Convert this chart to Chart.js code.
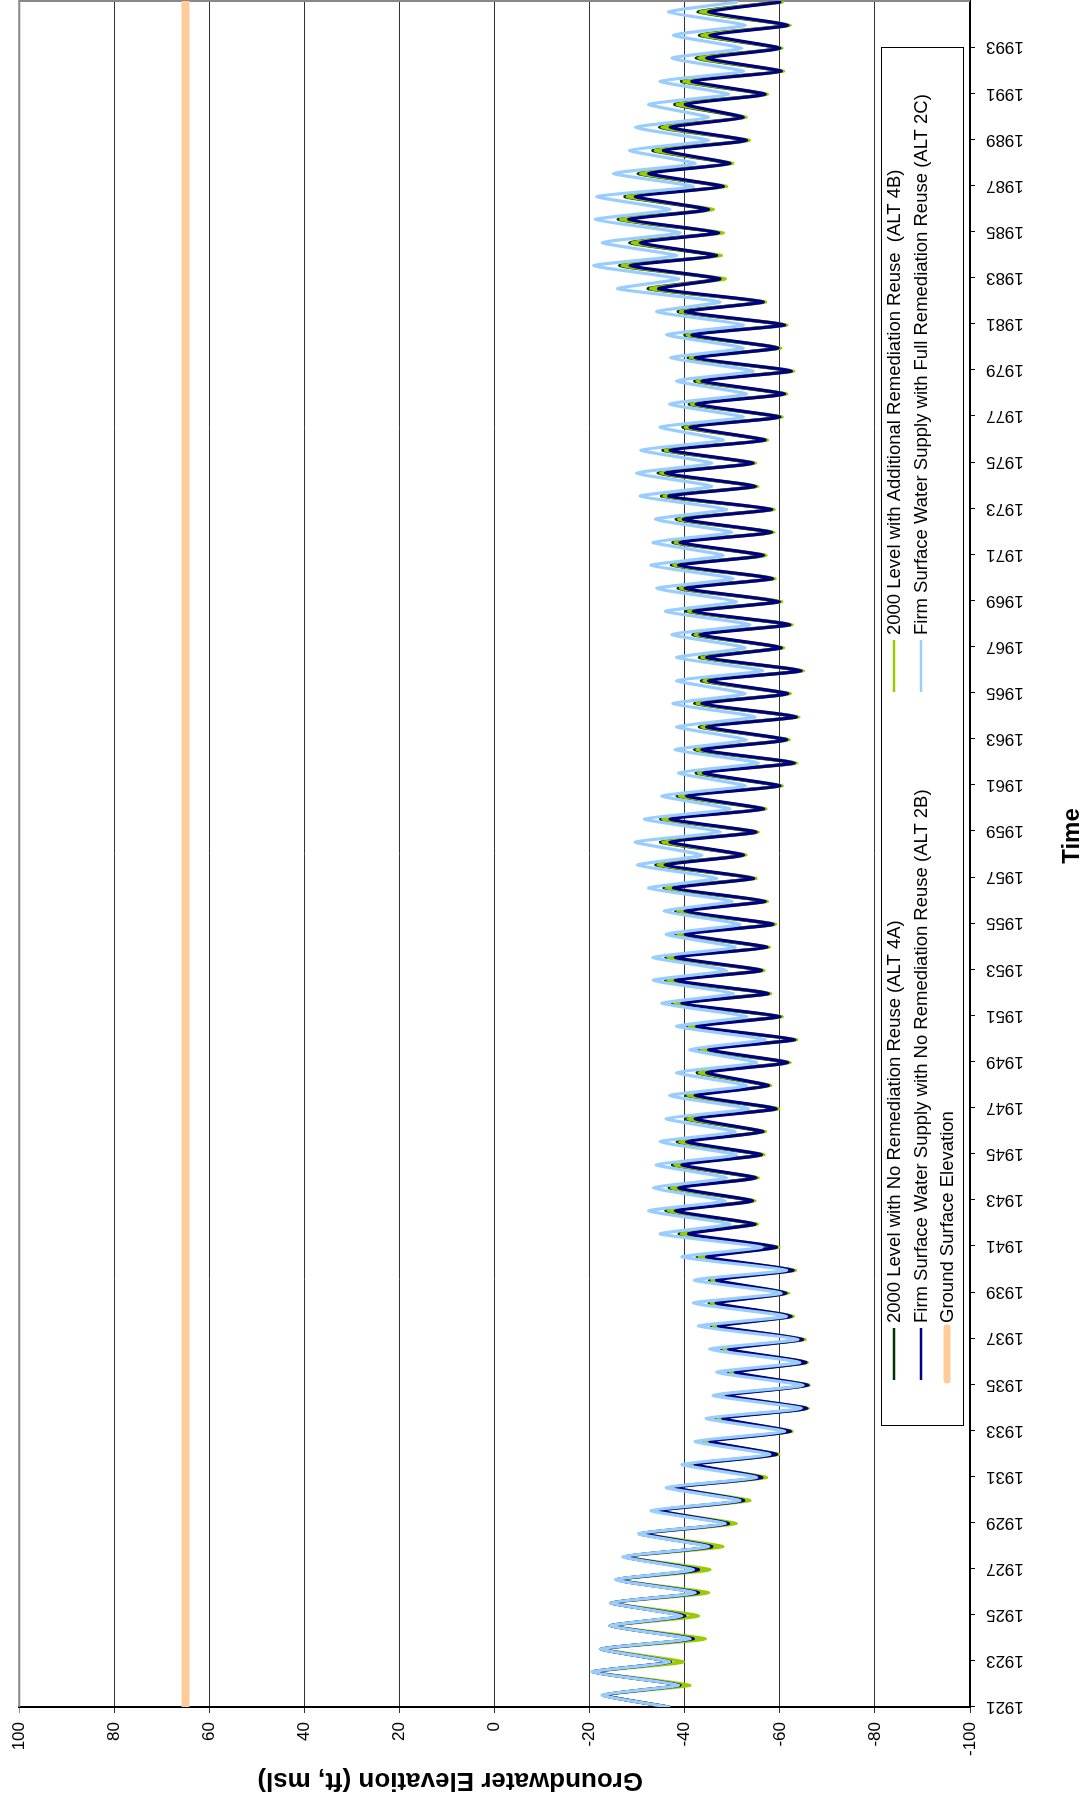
<!DOCTYPE html>
<html>
<head>
<meta charset="utf-8">
<script src="https://cdn.jsdelivr.net/npm/chart.js@4.4.1/dist/chart.umd.min.js"></script>
<style>
  html, body { margin: 0; padding: 0; background: #fff; overflow: hidden; }
  body { width: 1087px; height: 1797px; position: relative; }
  /* the chart is drawn landscape, then turned a quarter turn to the left */
  #wrap {
    position: absolute; left: 0; top: 0;
    width: 1797px; height: 1087px;
    transform-origin: 0 0;
    transform: translateY(1797px) rotate(-90deg);
  }
</style>
</head>
<body>
<div id="wrap"><canvas id="chart" width="1797" height="1087"></canvas></div>
<script>
// water years shown on the chart
const years = Array.from({ length: 74 }, (_, i) => 1921 + i);
const tickYears = [1921, 1923, 1925, 1927, 1929, 1931, 1933, 1935, 1937, 1939, 1941, 1943, 1945,
  1947, 1949, 1951, 1953, 1955, 1957, 1959, 1961, 1963, 1965, 1967, 1969, 1971, 1973, 1975, 1977,
  1979, 1981, 1983, 1985, 1987, 1989, 1991, 1993];
const valueTicks = [-100, -80, -60, -40, -20, 0, 20, 40, 60, 80, 100];

const startLevel = -36.6;   // first value, all scenarios
const groundLevel = 65;     // ground surface elevation (ft, msl)

// yearly high (spring) and low (fall) groundwater elevation, ft msl
const alt4aHigh = [-22.8, -20.6, -22.4, -24.3, -24.5, -25.6, -27.3, -30.5, -33.8, -37.0,
  -40.7, -43.8, -46.5, -47.3, -49.1, -47.7, -45.6, -45.1, -45.2, -42.6,
  -38.8, -36.0, -36.7, -37.4, -38.4, -40.2, -40.2, -42.6, -43.0, -40.5,
  -37.4, -36.0, -36.0, -38.1, -38.1, -35.6, -33.9, -34.9, -34.9, -38.4,
  -42.4, -42.1, -43.1, -42.1, -43.5, -43.1, -41.7, -40.3, -38.6, -37.2,
  -37.5, -38.2, -35.1, -34.4, -35.4, -39.6, -40.9, -42.1, -40.7, -40.0,
  -38.6, -32.3, -26.3, -28.4, -26.0, -27.4, -30.2, -33.3, -34.7, -37.9,
  -39.3, -42.4, -43.1, -42.8];
const alt4aLow = [-38.8, -36.8, -41.6, -39.9, -42.7, -42.7, -45.5, -49.0, -52.2, -56.0,
  -59.1, -62.0, -65.5, -65.7, -65.3, -64.6, -62.2, -61.2, -62.6, -59.1,
  -54.6, -54.1, -54.8, -56.0, -56.3, -59.1, -57.4, -61.5, -62.9, -59.8,
  -57.4, -56.0, -57.1, -58.4, -56.7, -54.3, -52.2, -54.8, -56.4, -59.8,
  -62.9, -61.3, -63.3, -61.5, -64.3, -60.1, -61.9, -59.7, -58.3, -56.4,
  -58.1, -58.1, -54.7, -54.2, -56.7, -59.8, -60.8, -62.2, -59.5, -60.8,
  -56.3, -47.2, -46.5, -46.9, -44.8, -47.9, -49.3, -52.8, -52.1, -56.7,
  -60.1, -59.8, -61.5, -59.8];

const alt4bHigh = [-23.0, -20.8, -22.6, -24.5, -24.7, -25.8, -27.5, -31.5, -34.3, -37.5,
  -41.2, -44.3, -47.0, -47.8, -49.6, -48.2, -46.1, -45.6, -45.7, -43.1,
  -39.3, -36.5, -37.2, -37.9, -38.9, -40.7, -40.7, -43.1, -43.5, -41.0,
  -37.9, -36.5, -36.5, -38.6, -38.6, -36.1, -34.4, -35.4, -35.4, -38.9,
  -42.9, -42.6, -43.6, -42.6, -44.0, -43.6, -42.2, -40.8, -39.1, -37.7,
  -38.0, -38.7, -35.6, -34.9, -35.9, -40.1, -41.4, -42.6, -41.2, -40.5,
  -39.1, -32.8, -26.8, -28.9, -26.5, -27.9, -30.7, -33.8, -35.2, -38.4,
  -39.8, -42.9, -43.6, -43.3];
const alt4bLow = [-41.1, -39.7, -44.3, -42.9, -45.0, -45.3, -48.0, -50.8, -53.7, -57.2,
  -59.8, -62.6, -66.0, -66.2, -65.8, -65.3, -62.9, -61.9, -63.3, -59.8,
  -55.3, -54.8, -55.5, -56.7, -57.0, -59.8, -58.1, -62.2, -63.6, -60.5,
  -58.1, -56.7, -57.8, -59.1, -57.4, -55.0, -52.9, -55.5, -57.1, -60.5,
  -63.6, -62.0, -64.0, -62.2, -65.0, -60.8, -62.6, -60.4, -59.0, -57.1,
  -58.8, -58.8, -55.4, -54.9, -57.4, -60.5, -61.5, -62.9, -60.2, -61.5,
  -57.0, -48.5, -47.7, -48.1, -46.0, -48.8, -50.1, -53.6, -52.9, -57.4,
  -60.8, -60.5, -62.2, -60.5];

const alt2bHigh = [-23.0, -20.8, -22.6, -24.5, -24.7, -25.8, -27.5, -31.5, -34.8, -38.0,
  -42.2, -45.3, -48.0, -48.8, -50.6, -49.2, -47.1, -46.6, -46.7, -44.6,
  -40.8, -38.0, -38.7, -39.4, -40.4, -42.2, -42.2, -44.6, -45.0, -42.5,
  -39.4, -38.0, -38.0, -40.1, -40.1, -37.6, -35.9, -36.9, -36.9, -40.4,
  -43.9, -43.6, -44.6, -43.6, -45.0, -44.6, -43.2, -41.8, -40.1, -38.7,
  -39.0, -39.7, -36.6, -35.9, -36.9, -41.1, -42.4, -43.6, -42.2, -41.5,
  -40.1, -34.5, -28.5, -30.6, -28.2, -29.6, -32.4, -35.5, -36.9, -40.1,
  -41.5, -44.6, -45.3, -45.0];
const alt2bLow = [-39.0, -37.0, -41.8, -40.1, -42.9, -42.9, -45.7, -49.2, -52.4, -56.2,
  -59.3, -62.2, -65.7, -65.9, -65.5, -64.8, -62.4, -61.4, -62.8, -59.3,
  -54.8, -54.3, -55.0, -56.2, -56.5, -59.3, -57.6, -61.7, -63.1, -60.0,
  -57.6, -56.2, -57.3, -58.6, -56.9, -54.5, -52.4, -55.0, -56.6, -60.0,
  -63.1, -61.5, -63.5, -61.7, -64.5, -60.3, -62.1, -59.9, -58.5, -56.6,
  -58.3, -58.3, -54.9, -54.4, -56.9, -60.0, -61.0, -62.4, -59.7, -61.0,
  -56.5, -47.4, -46.7, -47.1, -45.0, -48.1, -49.5, -53.0, -52.3, -56.9,
  -60.3, -60.0, -61.7, -60.0];

const alt2cHigh = [-22.6, -20.5, -22.4, -24.3, -24.5, -25.4, -27.0, -30.3, -32.9, -36.1,
  -39.4, -42.2, -44.5, -45.9, -46.7, -45.2, -42.9, -41.8, -42.0, -39.4,
  -34.8, -32.4, -33.4, -34.0, -34.8, -36.1, -36.8, -38.3, -41.1, -38.3,
  -35.2, -33.4, -33.3, -36.1, -35.7, -32.4, -30.1, -29.6, -31.5, -35.2,
  -38.7, -38.0, -38.3, -37.5, -38.3, -38.3, -37.3, -35.9, -34.1, -32.9,
  -33.3, -33.8, -30.6, -29.8, -30.8, -34.8, -36.8, -38.3, -37.1, -36.2,
  -34.1, -25.9, -20.8, -22.6, -21.2, -21.5, -25.0, -28.4, -29.6, -32.4,
  -34.8, -37.3, -37.6, -36.6];
const alt2cLow = [-38.7, -36.8, -41.1, -39.4, -42.2, -41.8, -45.0, -48.5, -51.6, -55.1,
  -57.9, -61.0, -64.5, -64.9, -64.2, -63.8, -61.4, -60.3, -61.4, -56.2,
  -49.5, -48.5, -48.8, -50.9, -50.6, -53.4, -53.0, -55.1, -56.9, -53.0,
  -50.2, -48.8, -50.6, -51.6, -49.9, -46.7, -43.6, -47.4, -49.5, -52.7,
  -55.5, -53.0, -54.8, -52.7, -56.4, -52.7, -53.7, -50.9, -50.2, -48.1,
  -49.9, -48.8, -45.7, -45.7, -48.1, -52.3, -53.0, -54.4, -52.3, -52.3,
  -47.4, -38.7, -38.3, -39.0, -36.9, -41.8, -42.2, -45.0, -45.0, -49.2,
  -52.3, -52.0, -52.7, -50.9];

const seriesNames = [
  '2000 Level with No Remediation Reuse (ALT 4A)',
  '2000 Level with Additional Remediation Reuse  (ALT 4B)',
  'Firm Surface Water Supply with No Remediation Reuse (ALT 2B)',
  'Firm Surface Water Supply with Full Remediation Reuse (ALT 2C)',
  'Ground Surface Elevation'
];
const seriesColors = ['#003300', '#99CC00', '#000080', '#99CCFF', '#FFCC99'];
const valueTitle = 'Groundwater Elevation (ft, msl)';
const timeTitle = 'Time';

// high water comes in late spring, low water at the end of the water year
function yearlySeries(highs, lows) {
  const pts = [{ x: years[0], y: startLevel }];
  years.forEach((yr, i) => {
    pts.push({ x: yr + 0.52, y: highs[i] });
    pts.push({ x: yr + 0.95, y: lows[i] });
  });
  return pts;
}

function lineSet(i, data, width, order) {
  return {
    label: seriesNames[i], data: data,
    borderColor: seriesColors[i], backgroundColor: seriesColors[i],
    borderWidth: width, borderJoinStyle: 'round', borderCapStyle: 'round',
    pointRadius: 0, tension: 0.15, fill: false, order: order
  };
}

Chart.defaults.font.family = "'Liberation Sans', Arial, sans-serif";
Chart.defaults.color = '#000';

// legend sits inside the plot, two columns filled top-down like the original
const boxLegend = {
  id: 'boxLegend',
  afterDraw(chart) {
    const ctx = chart.ctx;
    const a = chart.chartArea;
    const bx = a.left + 281, by = a.bottom - 89, bw = 1378, bh = 82;
    ctx.save();
    ctx.fillStyle = '#fff';
    ctx.fillRect(bx, by, bw, bh);
    ctx.strokeStyle = '#000';
    ctx.lineWidth = 1;
    ctx.strokeRect(bx + 0.5, by + 0.5, bw, bh);
    const slots = [[0, 0], [1, 0], [0, 1], [1, 1], [0, 2]];
    const colX = [bx + 46, bx + 734];
    const rowY = [by + 13, by + 40, by + 66];
    ctx.font = "18.5px 'Liberation Sans', Arial, sans-serif";
    ctx.textBaseline = 'middle';
    ctx.textAlign = 'left';
    chart.data.datasets.forEach((ds, i) => {
      const [c, r] = slots[i];
      const x = colX[c], y = rowY[r];
      ctx.beginPath();
      ctx.strokeStyle = ds.borderColor;
      ctx.lineWidth = i === 4 ? 7 : 2.5;
      ctx.lineCap = i === 4 ? 'round' : 'butt';
      ctx.moveTo(x, y);
      ctx.lineTo(x + 52, y);
      ctx.stroke();
      ctx.fillStyle = '#000';
      ctx.fillText(ds.label, x + 57, y + 1);
    });
    ctx.restore();
  }
};

// grey frame on the two sides that carry no axis
const plotFrame = {
  id: 'plotFrame',
  beforeDatasetsDraw(chart) {
    const ctx = chart.ctx;
    const a = chart.chartArea;
    ctx.save();
    ctx.strokeStyle = '#888';
    ctx.lineWidth = 2;
    ctx.beginPath();
    ctx.moveTo(a.left, a.top);
    ctx.lineTo(a.right, a.top);
    ctx.lineTo(a.right, a.bottom);
    ctx.stroke();
    ctx.restore();
  }
};

// axis titles, placed where the original has them (not quite centred)
const axisTitles = {
  id: 'axisTitles',
  afterDraw(chart) {
    const ctx = chart.ctx;
    const a = chart.chartArea;
    ctx.save();
    ctx.fillStyle = '#000';
    ctx.textAlign = 'center';
    ctx.textBaseline = 'middle';
    ctx.font = "bold 26px 'Liberation Sans', Arial, sans-serif";
    ctx.translate(17, a.top + 431);
    ctx.rotate(-Math.PI / 2);
    ctx.fillText(valueTitle, 0, 0);
    ctx.restore();
    ctx.save();
    ctx.fillStyle = '#000';
    ctx.textAlign = 'center';
    ctx.textBaseline = 'middle';
    ctx.font = "bold 24px 'Liberation Sans', Arial, sans-serif";
    ctx.fillText(timeTitle, a.left + 871, chart.height - 15);
    ctx.restore();
  }
};

new Chart(document.getElementById('chart'), {
  type: 'line',
  data: {
    datasets: [
      lineSet(0, yearlySeries(alt4aHigh, alt4aLow), 3.2, 5),
      lineSet(1, yearlySeries(alt4bHigh, alt4bLow), 3.2, 4),
      lineSet(2, yearlySeries(alt2bHigh, alt2bLow), 3.2, 3),
      lineSet(3, yearlySeries(alt2cHigh, alt2cLow), 3.2, 2),
      lineSet(4, [{ x: years[0], y: groundLevel }, { x: 1995, y: groundLevel }], 8, 1)
    ]
  },
  options: {
    responsive: false,
    devicePixelRatio: 1,
    animation: false,
    layout: { padding: { top: 18.5, right: 1, left: 0, bottom: 0 } },
    plugins: { legend: { display: false }, tooltip: { enabled: false } },
    scales: {
      x: {
        type: 'linear', min: 1921, max: 1995,
        afterBuildTicks: s => { s.ticks = tickYears.map(v => ({ value: v })); },
        afterFit: s => { s.height = 117; },
        ticks: {
          autoSkip: false, minRotation: 90, maxRotation: 90, padding: 11,
          font: { size: 17 }, callback: v => String(v)
        },
        grid: { drawOnChartArea: false, tickLength: 5, color: '#000' },
        border: { color: '#000', width: 2 }
      },
      y: {
        min: -100, max: 100,
        afterBuildTicks: s => { s.ticks = valueTicks.map(v => ({ value: v })); },
        afterFit: s => { s.width = 90; },
        ticks: { font: { size: 17 }, padding: 9 },
        grid: {
          tickLength: 6, lineWidth: 1,
          color: c => (c.tick && c.tick.value === 100 ? '#888' : '#333')
        },
        border: { color: '#000', width: 2 }
      }
    }
  },
  plugins: [plotFrame, boxLegend, axisTitles]
});
</script>
</body>
</html>
